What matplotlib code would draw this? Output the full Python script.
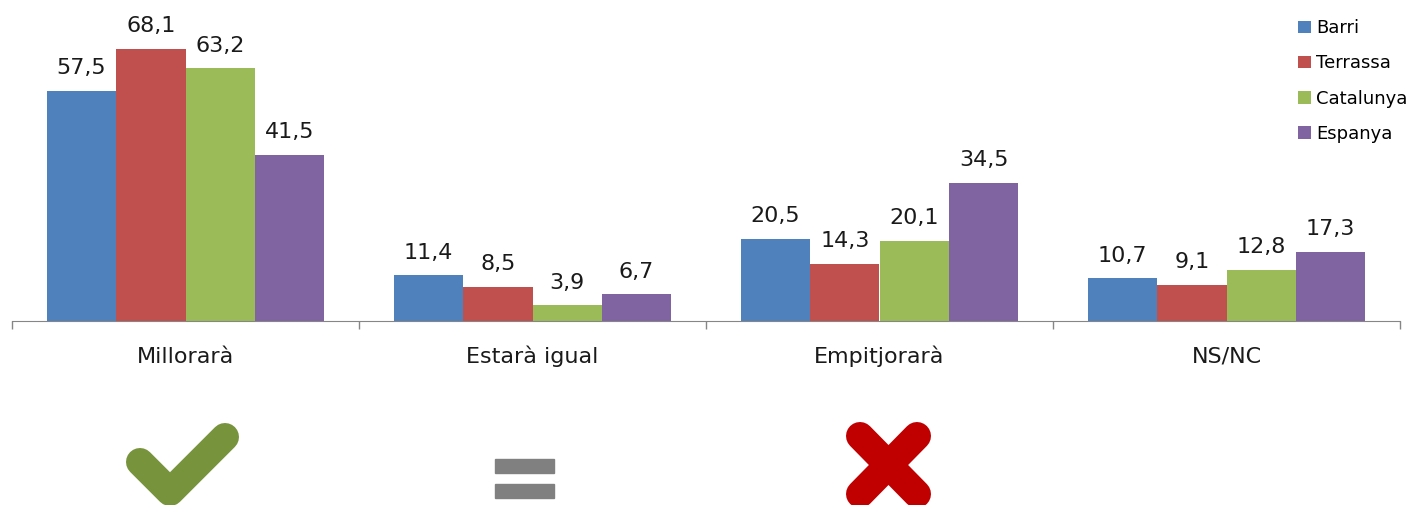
import matplotlib.pyplot as plt
import numpy as np

categories = ['Millorarà', 'Estarà igual', 'Empitjorarà', 'NS/NC']
series = ['Barri', 'Terrassa', 'Catalunya', 'Espanya']
barri = [57.5, 11.4, 20.5, 10.7]
terrassa = [68.1, 8.5, 14.3, 9.1]
catalunya = [63.2, 3.9, 20.1, 12.8]
espanya = [41.5, 6.7, 34.5, 17.3]
colors = ['#4F81BD', '#C0504D', '#9BBB59', '#8064A2']

W, H = 1421, 505
fig = plt.figure(figsize=(W / 100, H / 100), dpi=100)

# main bar axes: x from 12px to 1400px, baseline at y=321px, 4 px per unit
ax = fig.add_axes([12 / W, (H - 321) / H, 1388 / W, 321 / H])
x = np.arange(len(categories))
width = 0.2
for i, (name, vals) in enumerate(zip(series, [barri, terrassa, catalunya, espanya])):
    bars = ax.bar(x + (i - 1.5) * width, vals, width, color=colors[i], label=name)
    for b, v in zip(bars, vals):
        ax.annotate(f"{v:.1f}".replace('.', ','), (b.get_x() + b.get_width() / 2, v),
                    xytext=(0, 12), textcoords='offset points', ha='center', va='baseline',
                    fontsize=16, color='#1a1a1a')

ax.set_xlim(-0.5, 3.5)
ax.set_ylim(0, 80.25)
ax.set_yticks([])
for s in ['top', 'right', 'left']:
    ax.spines[s].set_visible(False)
ax.spines['bottom'].set_color('#868686')
ax.set_xticks(np.arange(-0.5, 4, 1))
ax.set_xticklabels([])
ax.tick_params(axis='x', length=6, color='#868686', width=1)
for xi, c in zip(x, categories):
    ax.text(xi, -10.5, c, ha='center', va='baseline', fontsize=16, color='#1a1a1a')

ax.legend(loc='upper left', bbox_to_anchor=(1291 / W, 1 - 12 / H), bbox_transform=fig.transFigure,
          frameon=False, fontsize=13, handlelength=0.7, handleheight=0.7, handletextpad=0.3,
          labelspacing=0.95, borderaxespad=0)

# icons below the chart, in pixel coordinates
ia = fig.add_axes([0, 0, 1, 1], zorder=-1)
ia.set_xlim(0, W)
ia.set_ylim(H, 0)
ia.axis('off')
lw = 28 * 0.72
ia.plot([140, 170, 225], [462, 492, 437], color='#77933C', lw=lw,
        solid_capstyle='round', solid_joinstyle='round')
ia.add_patch(plt.Rectangle((495, 459), 59, 14, color='#808080'))
ia.add_patch(plt.Rectangle((495, 484), 59, 14, color='#808080'))
ia.plot([860, 917], [436, 494], color='#C00000', lw=lw, solid_capstyle='round')
ia.plot([917, 860], [436, 494], color='#C00000', lw=lw, solid_capstyle='round')

fig.savefig('out.png', dpi=100)
